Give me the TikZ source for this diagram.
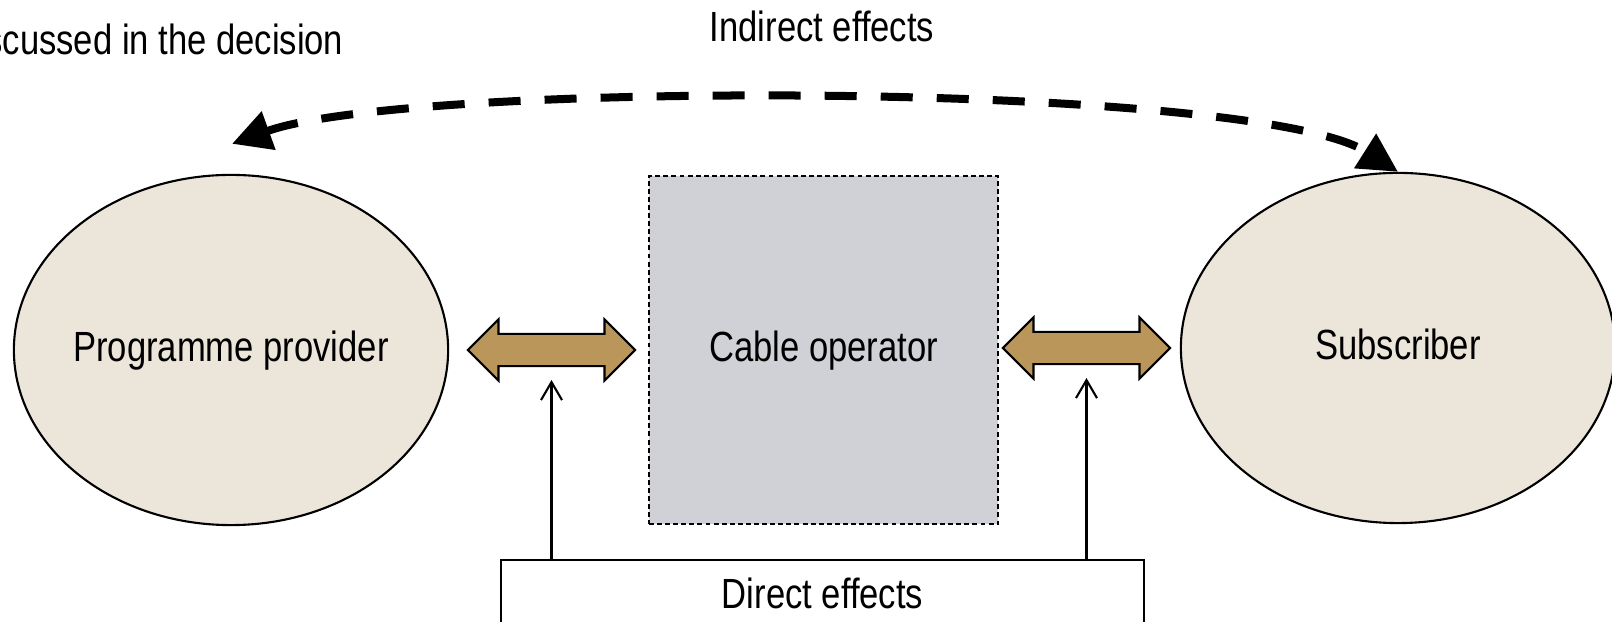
\documentclass[tikz,border=0pt]{standalone}
\usepackage{fontspec}
\setmainfont{Liberation Sans}[FakeStretch=0.82]
\usetikzlibrary{shapes.geometric, shapes.arrows, arrows.meta, calc}

\definecolor{partyfill}{RGB}{236,229,218}
\definecolor{opfill}{RGB}{208,209,214}
\definecolor{linkfill}{RGB}{186,150,90}

\begin{document}
\begin{tikzpicture}[
    x=0.01cm, y=-0.01cm,
    font=\fontsize{12pt}{14pt}\selectfont,
    % 1. Core Shapes
    party/.style={ellipse, draw=black, line width=0.6pt, fill=partyfill, minimum width=4.34cm, minimum height=3.5cm, inner xsep=-0.06cm, inner ysep=0pt, text height=0.75em, text depth=0.1em},
    op/.style={draw=black, line width=0.6pt, dash pattern=on 1.4pt off 0.9pt, fill=opfill, minimum width=3.49cm, minimum height=3.48cm, text height=0.75em, text depth=0.1em},
    link/.style={double arrow, draw=black, line width=0.6pt, fill=linkfill, minimum height=1.67cm, inner xsep=0pt, inner ysep=0.15cm, double arrow head extend=0.145cm},
    effbox/.style={draw=black, line width=0.6pt, minimum width=6.43cm, minimum height=0.66cm},
    lbl/.style={inner sep=0pt},
    % 2. Connectors
    arr/.style={line width=0.6pt, -{Straight Barb[length=1.8mm,width=2.1mm]}},
    indirect/.style={line width=0.08cm, dash pattern=on 0.32cm off 0.24cm, {Triangle[length=3.9mm,width=3.9mm]}-{Triangle[length=3.9mm,width=3.9mm]}}
]
\useasboundingbox (0,0) rectangle (1612,622);

% ===============================
% Parties and operator
% ===============================
\node[party] (prov) at (231,350) {Programme provider};
\node[op] (cable) at (823.5,350) {Cable operator};
\node[party] (sub) at (1398,348) {Subscriber};

% Two-way links between the parties
\node[link] (link1) at (551.5,350) {};
\node[link] (link2) at (1086.5,348) {};

% ===============================
% Direct effects
% ===============================
\node[effbox] (direct) at (822.5,593) {Direct effects};
\draw[arr] (link1.center |- direct.north) -- ($(link1.center)+(0,30)$);
\draw[arr] (link2.center |- direct.north) -- ($(link2.center)+(0,30)$);

% ===============================
% Indirect effects
% ===============================
\draw[indirect] ($(prov.north)+(1,-30)$) .. controls (409,80) and (1255,81) .. (sub.north);
\node[lbl, anchor=base] (indlbl) at (822,42) {Indirect effects};
\node[lbl, anchor=base east] (declbl) at (344,55) {discussed in the decision};

\end{tikzpicture}
\end{document}
